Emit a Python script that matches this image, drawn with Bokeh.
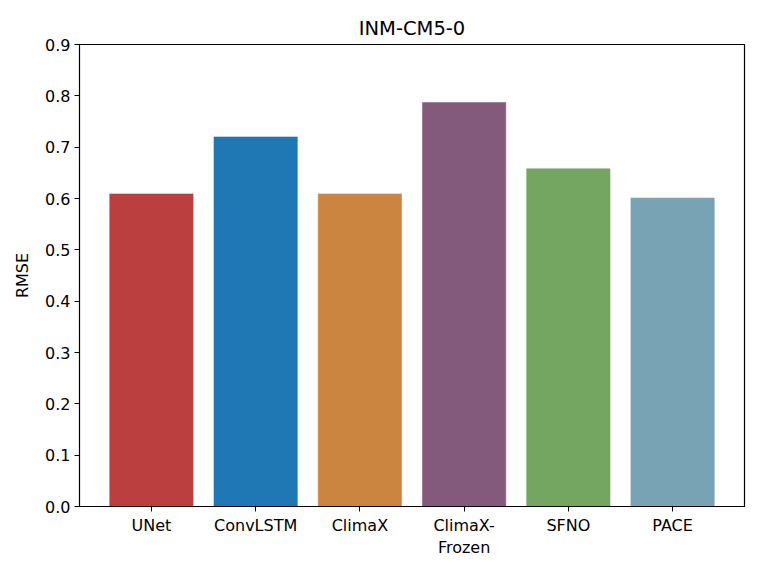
from bokeh.plotting import figure
from bokeh.models import FixedTicker, ColumnDataSource, Range1d
from bokeh.embed import file_html
from bokeh.resources import INLINE

models = ["UNet", "ConvLSTM", "ClimaX", "ClimaX-\nFrozen", "SFNO", "PACE"]
rmse = [0.609, 0.720, 0.609, 0.787, 0.658, 0.601]
colors = ["#bb3f3f", "#1f77b4", "#cc8541", "#845a7c", "#74a662", "#78a3b5"]
yticks = [0.0, 0.1, 0.2, 0.3, 0.4, 0.5, 0.6, 0.7, 0.8, 0.9]

xs = list(range(len(models)))
src = ColumnDataSource(dict(x=xs, top=rmse, color=colors))

p = figure(width=750, height=565, output_backend="svg", toolbar_location=None,
           title="INM-CM5-0", x_range=Range1d(-0.69, 5.69), y_range=Range1d(0, 0.9),
           min_border_left=79, min_border_right=6, min_border_top=44, min_border_bottom=59)
p.vbar(x="x", top="top", bottom=0, width=0.8, fill_color="color", line_color="color",
       line_alpha=0.5, source=src)

font = "DejaVu Sans"
p.title.align = "center"
p.title.text_font = font
p.title.text_font_size = "19.5px"
p.title.text_font_style = "normal"
p.title.text_color = "black"
p.title.offset = 0

p.xgrid.visible = False
p.ygrid.visible = False
p.outline_line_color = "black"
p.outline_line_width = 1.2

p.xaxis.ticker = FixedTicker(ticks=xs)
p.xaxis.major_label_overrides = {i: m for i, m in enumerate(models)}
p.yaxis.ticker = FixedTicker(ticks=yticks)
p.yaxis.major_label_overrides = {t: f"{t:.1f}" for t in yticks}
p.yaxis.axis_label = "RMSE"

for ax in (p.xaxis, p.yaxis):
    ax.axis_line_color = "black"
    ax.major_tick_line_color = "black"
    ax.minor_tick_line_color = None
    ax.major_tick_in = 0
    ax.major_tick_out = 5
    ax.major_label_text_font = font
    ax.major_label_text_font_size = "16px"
    ax.major_label_text_color = "black"
    ax.axis_label_text_font = font
    ax.axis_label_text_font_size = "16px"
    ax.axis_label_text_font_style = "normal"
    ax.axis_label_text_color = "black"
p.xaxis.major_label_standoff = 4
p.yaxis.major_label_standoff = 4
p.yaxis.axis_label_standoff = 10

open("out.html", "w").write(file_html(p, INLINE))
